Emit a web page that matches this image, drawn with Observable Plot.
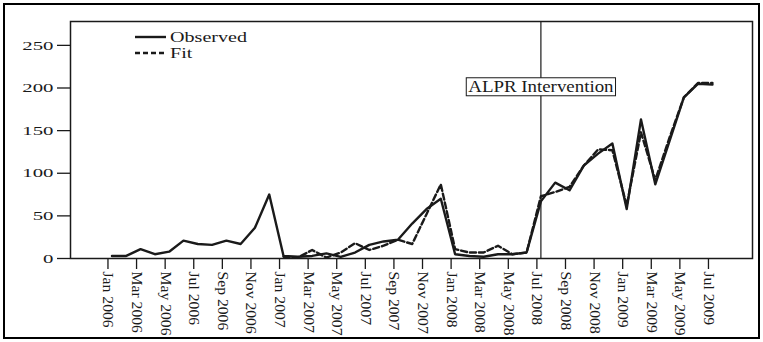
<!DOCTYPE html>
<html><head><meta charset="utf-8">
<script src="https://cdn.jsdelivr.net/npm/d3@7"></script>
<script src="https://cdn.jsdelivr.net/npm/@observablehq/plot@0.6"></script>
<style>
html,body{margin:0;padding:0;background:#fff;}
#chart{width:763px;height:342px;}
</style></head><body><div id="chart"></div>
<script>
const months = ["Jan 2006","Feb 2006","Mar 2006","Apr 2006","May 2006","Jun 2006","Jul 2006","Aug 2006","Sep 2006","Oct 2006","Nov 2006","Dec 2006",
"Jan 2007","Feb 2007","Mar 2007","Apr 2007","May 2007","Jun 2007","Jul 2007","Aug 2007","Sep 2007","Oct 2007","Nov 2007","Dec 2007",
"Jan 2008","Feb 2008","Mar 2008","Apr 2008","May 2008","Jun 2008","Jul 2008","Aug 2008","Sep 2008","Oct 2008","Nov 2008","Dec 2008",
"Jan 2009","Feb 2009","Mar 2009","Apr 2009","May 2009","Jun 2009","Jul 2009"];
const observed = [3,3,11,5,8,21,17,16,21,17,36,75,
3,2,3,6,2,7,16,20,22,41,58,70,
5,3,2,5,5,7,67,89,80,109,123,135,
58,163,87,138,189,205,204];
const fitStartMonth = "Jan 2007";
const fit = [2,1,10,1,7,18,10,15,22,17,52,87,
11,7,7,15,5,7,73,78,84,109,128,127,
62,148,92,142,189,206,206];
const yTicks = [0,50,100,150,200,250];
const interventionMonth = "Jul 2008";
const interventionLabel = "ALPR Intervention";
const interventionLabelY = 201;
const seriesNames = ["Observed","Fit"];

const fitStart = months.indexOf(fitStartMonth);
const obsData = observed.map((v,i)=>({i, v}));
const fitData = fit.map((v,k)=>({i:k+fitStart, v}));
const iv = months.indexOf(interventionMonth);
const xTicks = months.map((m,i)=>i).filter(i=>i%2===0);
const ink = "#1a1a1a";

const plot = Plot.plot({
  width:763, height:342,
  marginLeft:70, marginRight:11, marginTop:21, marginBottom:84,
  style:{fontFamily:"'Liberation Serif', 'Times New Roman', serif", fontSize:"14px", color:ink, background:"#fff"},
  x:{domain:[-2.9, 44.8]},
  y:{domain:[0,278]},
  marks:[
    Plot.axisX({ticks:xTicks, tickFormat:i=>months[i], tickRotate:90, tickSize:11, tickPadding:2, dx:-4, fontSize:14, label:null, strokeWidth:1.3}),
    Plot.axisY({ticks:yTicks, tickSize:13, tickPadding:4, fontSize:13, label:null, strokeWidth:1.3}),
    Plot.frame({stroke:ink, strokeWidth:1.5}),
    Plot.ruleX([iv], {stroke:ink, strokeWidth:1.2}),
    Plot.line(fitData, {x:"i", y:"v", stroke:ink, strokeWidth:2.4, strokeDasharray:"6,3"}),
    Plot.line(obsData, {x:"i", y:"v", stroke:ink, strokeWidth:2.4}),
    Plot.text([interventionLabel], {x:()=>iv, y:()=>interventionLabelY, text:d=>d, fontSize:16, textAnchor:"middle", lineAnchor:"middle", fill:ink})
  ]
});
document.getElementById("chart").appendChild(plot);

function stretch(nodes, factor){
  nodes.forEach(t=>{
    const L = t.getComputedTextLength();
    t.setAttribute("textLength", L*factor);
    t.setAttribute("lengthAdjust","spacingAndGlyphs");
  });
}
stretch(plot.querySelectorAll('g[aria-label="y-axis tick label"] text'), 1.6);
stretch(plot.querySelectorAll('g[aria-label="x-axis tick label"] text'), 1.12);

// box behind annotation
const annText = plot.querySelector('g[aria-label="text"] text');
stretch([annText], 1.18);
const bb = annText.getBBox();
const ann = d3.select(annText.parentNode);
const tr = annText.getAttribute("transform");
ann.insert("rect", "text")
  .attr("transform", tr)
  .attr("x", bb.x - 2).attr("y", bb.y - 0.5)
  .attr("width", bb.width + 4).attr("height", bb.height + 1)
  .attr("fill", "#fff").attr("stroke", ink).attr("stroke-width", 1);

// legend
const svg = d3.select(plot);
const lg = svg.append("g").attr("font-family","'Liberation Serif', serif").attr("font-size",15)
  .attr("fill",ink).attr("text-anchor","start");
seriesNames.forEach((name,k)=>{
  lg.append("line").attr("x1",135).attr("x2",166).attr("y1",37+16*k).attr("y2",37+16*k)
    .attr("stroke",ink).attr("stroke-width",2.4).attr("stroke-dasharray", k ? "5,3" : null);
  const t = lg.append("text").attr("x",170).attr("y",42+16*k).text(name);
  stretch([t.node()], 1.34);
});
// outer border
svg.append("rect").attr("x",4).attr("y",4).attr("width",755).attr("height",334)
  .attr("fill","none").attr("stroke","#000").attr("stroke-width",2);
</script></body></html>
